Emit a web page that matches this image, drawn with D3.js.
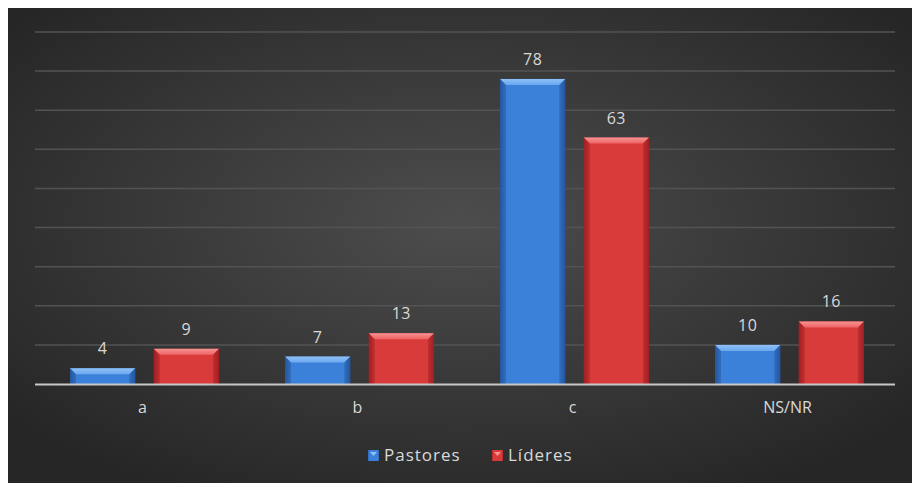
<!DOCTYPE html>
<html>
<head>
<meta charset="utf-8">
<script src="https://cdn.jsdelivr.net/npm/d3@7"></script>
<style>
  html, body { margin: 0; padding: 0; background: #ffffff; }
  svg { display: block; }
  text { font-family: "Open Sans", "DejaVu Sans", sans-serif; fill: #d9d9d9; }
</style>
</head>
<body>
<svg id="chart" width="912" height="483"></svg>
<script>
// Categories and series
const categories = ["a", "b", "c", "NS/NR"];
const seriesNames = ["Pastores", "Líderes"];
const pastores = [4, 7, 78, 10];
const lideres = [9, 13, 63, 16];
const yTicks = [0, 10, 20, 30, 40, 50, 60, 70, 80, 90];

const W = 912, H = 483;
const svg = d3.select("#chart");
const defs = svg.append("defs");

// Dark radial backdrop
const bg = defs.append("radialGradient").attr("id", "bg")
  .attr("cx", "50%").attr("cy", "45%").attr("r", "65%");
bg.append("stop").attr("offset", "0%").attr("stop-color", "#4d4d4d");
bg.append("stop").attr("offset", "100%").attr("stop-color", "#262626");
svg.append("rect").attr("x", 8).attr("y", 8).attr("width", W - 8).attr("height", H - 8)
  .attr("fill", "url(#bg)");

const colors = {
  Pastores: { base: "#3c81d9", dark: "#24569e", light: "#6aa8f0", top: "#8fc0f7" },
  "Líderes": { base: "#d93a3a", dark: "#a01f22", light: "#ee6363", top: "#f79393" }
};

// Bar body gradients: darker edges, lighter centre
Object.entries(colors).forEach(([name, c], i) => {
  const g = defs.append("linearGradient").attr("id", "body" + i)
    .attr("x1", "0%").attr("x2", "100%").attr("y1", "0%").attr("y2", "0%");
  g.append("stop").attr("offset", "0%").attr("stop-color", c.dark);
  g.append("stop").attr("offset", "8%").attr("stop-color", c.base);
  g.append("stop").attr("offset", "50%").attr("stop-color", c.base);
  g.append("stop").attr("offset", "92%").attr("stop-color", c.base);
  g.append("stop").attr("offset", "100%").attr("stop-color", c.dark);
  const t = defs.append("linearGradient").attr("id", "top" + i)
    .attr("x1", "0%").attr("x2", "0%").attr("y1", "0%").attr("y2", "100%");
  t.append("stop").attr("offset", "0%").attr("stop-color", c.top);
  t.append("stop").attr("offset", "100%").attr("stop-color", c.light);
});

const plot = { left: 35, right: 895, top: 32, bottom: 384 };

const x = d3.scaleBand().domain(categories).range([plot.left, plot.right]).paddingInner(0).paddingOuter(0);
const y = d3.scaleLinear().domain([0, 90]).range([plot.bottom, plot.top]);
const xs = d3.scaleBand().domain(seriesNames).range([35, 184]).paddingInner(0.22);

// Gridlines
svg.append("g").selectAll("line").data(yTicks.slice(1)).join("line")
  .attr("x1", plot.left).attr("x2", plot.right)
  .attr("y1", d => y(d)).attr("y2", d => y(d))
  .attr("stroke", "#535353").attr("stroke-width", 1.5);

const data = categories.map((c, i) => ({ cat: c, vals: [pastores[i], lideres[i]] }));

const bevel = 6;
const groups = svg.append("g").selectAll("g").data(data).join("g")
  .attr("transform", d => `translate(${x(d.cat)},0)`);

groups.each(function(d) {
  const g = d3.select(this);
  d.vals.forEach((v, si) => {
    const bx = xs(seriesNames[si]);
    const bw = xs.bandwidth();
    const by = y(v);
    const bh = y(0) - y(v);
    // body
    g.append("rect").attr("x", bx).attr("y", by).attr("width", bw).attr("height", bh)
      .attr("fill", `url(#body${si})`);
    // bevelled top face
    const b = Math.min(bevel, bh / 2);
    g.append("path")
      .attr("d", `M${bx},${by} L${bx + bw},${by} L${bx + bw - b},${by + b} L${bx + b},${by + b} Z`)
      .attr("fill", `url(#top${si})`);
    // side bevels
    g.append("path")
      .attr("d", `M${bx},${by} L${bx + b},${by + b} L${bx + b},${by + bh} L${bx},${by + bh} Z`)
      .attr("fill", colors[seriesNames[si]].dark).attr("opacity", 0.5);
    g.append("path")
      .attr("d", `M${bx + bw},${by} L${bx + bw - b},${by + b} L${bx + bw - b},${by + bh} L${bx + bw},${by + bh} Z`)
      .attr("fill", colors[seriesNames[si]].dark).attr("opacity", 0.5);
    // value label
    g.append("text").attr("x", bx + bw / 2).attr("y", by - 14)
      .attr("text-anchor", "middle").attr("font-size", 16).attr("letter-spacing", 0.5).text(v);
  });
});

// Baseline
svg.append("line").attr("x1", plot.left).attr("x2", plot.right)
  .attr("y1", y(0) + 0.5).attr("y2", y(0) + 0.5)
  .attr("stroke", "#c8c8c8").attr("stroke-width", 2);

// Category axis labels
const xAxis = svg.append("g").attr("transform", `translate(0,${y(0)})`)
  .call(d3.axisBottom(x).tickSize(0).tickPadding(18));
xAxis.select(".domain").remove();
xAxis.selectAll("text").attr("font-size", 16).attr("fill", "#d9d9d9")
  .attr("font-family", '"Open Sans", sans-serif');

// Legend
const legendItems = [
  { name: "Pastores", x: 368, ci: 0 },
  { name: "Líderes", x: 492, ci: 1 }
];
const lg = svg.append("g");
legendItems.forEach(it => {
  const c = colors[it.name];
  lg.append("rect").attr("x", it.x).attr("y", 450).attr("width", 11).attr("height", 11)
    .attr("fill", `url(#body${it.ci})`);
  lg.append("path")
    .attr("d", `M${it.x + 2},${452} L${it.x + 9},${452} L${it.x + 5.5},${456} Z`)
    .attr("fill", c.top);
  lg.append("text").attr("x", it.x + 16).attr("y", 461)
    .attr("font-size", 17).attr("letter-spacing", 1).text(it.name);
});
</script>
</body>
</html>
